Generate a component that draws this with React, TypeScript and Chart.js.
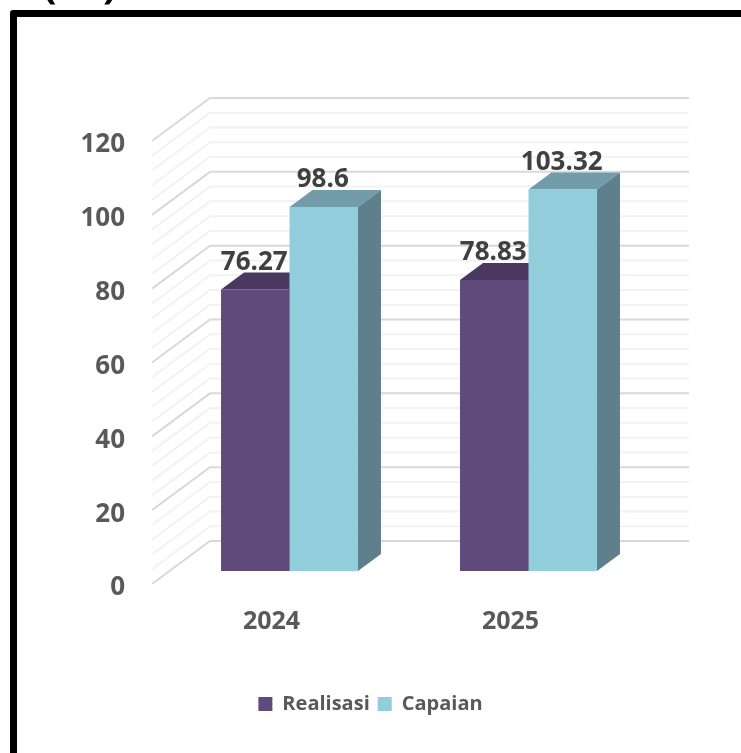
import React, { useEffect, useRef } from "react";
import { Chart, registerables } from "chart.js";

Chart.register(...registerables);

const categories = ["2024", "2025"];
const realisasi = [76.27, 78.83];
const capaian = [98.6, 103.32];
const seriesNames = ["Realisasi", "Capaian"];
const frontColors = ["#604A7B", "#92CDDC"];
const topColors = ["#4B3860", "#729CAA"];
const sideColors = ["#40304F", "#5F808A"];
const FONT = '"Open Sans", sans-serif';
const DX = 23;
const DY = -17;

const threeD = {
  id: "threeD",
  beforeDatasetsDraw(chart: any) {
    const { ctx, scales } = chart;
    const y = scales.y;
    const backRight = 689;
    const frontLeft = 152;
    const backLeft = 210;
    ctx.save();
    // walls: minor lines first, major on top
    for (let pass = 0; pass < 2; pass++) {
      for (let v = 0; v <= 120; v += 4) {
        const major = v % 20 === 0;
        if ((pass === 1) !== major) continue;
        const py = y.getPixelForValue(v);
        ctx.strokeStyle = major ? "#D9D9D9" : "#F2F2F2";
        ctx.lineWidth = 2;
        ctx.beginPath();
        ctx.moveTo(frontLeft, py + 13);
        ctx.lineTo(backLeft, py - 30);
        ctx.lineTo(backRight, py - 30);
        ctx.stroke();
      }
    }
    // bar depth
    chart.data.datasets.forEach((_: any, di: number) => {
      chart.getDatasetMeta(di).data.forEach((bar: any) => {
        const l = bar.x - bar.width / 2;
        const r = bar.x + bar.width / 2;
        const t = bar.y;
        const b = bar.base;
        ctx.fillStyle = topColors[di];
        ctx.beginPath();
        ctx.moveTo(l, t);
        ctx.lineTo(l + DX, t + DY);
        ctx.lineTo(r + DX, t + DY);
        ctx.lineTo(r, t);
        ctx.closePath();
        ctx.fill();
        ctx.fillStyle = sideColors[di];
        ctx.beginPath();
        ctx.moveTo(r, t);
        ctx.lineTo(r + DX, t + DY);
        ctx.lineTo(r + DX, b + DY);
        ctx.lineTo(r, b);
        ctx.closePath();
        ctx.fill();
      });
    });
    ctx.restore();
  },
  afterDatasetsDraw(chart: any) {
    const { ctx } = chart;
    ctx.save();
    ctx.fillStyle = "#404040";
    ctx.font = `bold 26px ${FONT}`;
    ctx.textAlign = "center";
    ctx.textBaseline = "middle";
    chart.data.datasets.forEach((ds: any, di: number) => {
      chart.getDatasetMeta(di).data.forEach((bar: any, i: number) => {
        ctx.fillText(String(ds.data[i]), bar.x - 1, bar.y - 27);
      });
    });
    ctx.restore();
  },
};

export default function App() {
  const ref = useRef<HTMLCanvasElement>(null);
  useEffect(() => {
    const chart = new Chart(ref.current!, {
      type: "bar",
      data: {
        labels: categories,
        datasets: [
          { label: seriesNames[0], data: realisasi, backgroundColor: frontColors[0] },
          { label: seriesNames[1], data: capaian, backgroundColor: frontColors[1] },
        ],
      },
      plugins: [threeD],
      options: {
        responsive: false,
        animation: false,
        layout: { padding: { top: 128, right: 70, left: 70, bottom: 29 } },
        datasets: { bar: { barPercentage: 1, categoryPercentage: 0.573 } },
        scales: {
          x: {
            grid: { display: false, drawTicks: false },
            border: { display: false },
            ticks: { color: "#595959", font: { family: FONT, size: 25, weight: "bold" }, padding: 36, labelOffset: -18 },
            afterFit: (s: any) => { s.height = 115; },
          },
          y: {
            min: 0,
            max: 120,
            grid: { display: false, drawTicks: false },
            border: { display: false },
            ticks: { stepSize: 20, color: "#595959", font: { family: FONT, size: 26, weight: "bold" }, padding: 45, labelOffset: 17 },
            afterFit: (s: any) => { s.width = 100; },
          },
          spacer: {
            type: "linear",
            position: "right",
            min: 0,
            max: 1,
            grid: { display: false, drawTicks: false },
            border: { display: false },
            ticks: { display: false },
            afterFit: (s: any) => { s.width = 23; },
          },
        },
        plugins: {
          tooltip: { enabled: false },
          title: { display: false },
          legend: {
            position: "bottom",
            labels: { boxWidth: 14, boxHeight: 14, padding: 8, color: "#595959", font: { family: FONT, size: 20, weight: "bold" } },
          },
        },
      },
    } as any);
    return () => chart.destroy();
  }, []);
  const paren = { position: "absolute", top: -40, font: `bold 40px ${FONT}`, color: "#000", lineHeight: "46px" } as const;
  return (
    <div style={{ position: "fixed", left: 0, top: 0, width: 741, height: 753, overflow: "hidden", background: "#fff" }}>
      <canvas ref={ref} width={741} height={753} style={{ position: "absolute", left: 0, top: 0, display: "block" }} />
      <div style={{ position: "absolute", left: 10, top: 10, width: 800, height: 800, border: "7px solid #000", borderRadius: 3, boxSizing: "border-box" }} />
      <span style={{ ...paren, left: 43 }}>(</span>
      <span style={{ ...paren, left: 103 }}>)</span>
    </div>
  );
}
